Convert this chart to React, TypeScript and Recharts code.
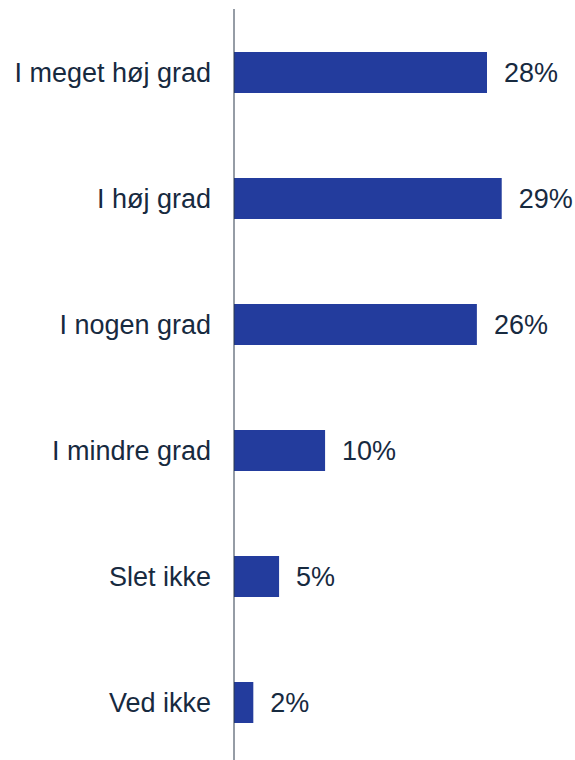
import React from "react";
import { BarChart, Bar, XAxis, YAxis, LabelList } from "recharts";

const categories = [
  "I meget høj grad",
  "I høj grad",
  "I nogen grad",
  "I mindre grad",
  "Slet ikke",
  "Ved ikke",
];
const values = [27.5, 29.1, 26.4, 9.9, 4.9, 2.1];
const labels = ["28%", "29%", "26%", "10%", "5%", "2%"];

const data = categories.map((c, i) => ({ name: c, value: values[i], label: labels[i] }));

const FONT = '"Liberation Sans", Arial, sans-serif';
const TEXT = "#172a3f";

export default function App() {
  return (
    <div
      style={{
        position: "absolute",
        left: 0,
        top: 0,
        width: 575,
        height: 760,
        overflow: "hidden",
        background: "#ffffff",
      }}
    >
      <BarChart
        width={575}
        height={766}
        data={data}
        layout="vertical"
        margin={{ top: 9, right: 19, left: 0, bottom: 1 }}
      >
        <XAxis type="number" domain={[0, 35]} hide />
        <YAxis
          type="category"
          dataKey="name"
          width={234}
          tickLine={false}
          tickSize={0}
          tickMargin={23}
          axisLine={{ stroke: "#2c3b4d", strokeWidth: 1 }}
          tick={{ fill: TEXT, fontSize: 27, fontFamily: FONT }}
          interval={0}
        />
        <Bar dataKey="value" fill="#233c9d" barSize={41} isAnimationActive={false}>
          <LabelList
            dataKey="label"
            position="right"
            offset={17}
            style={{ fill: TEXT, fontSize: 27, fontFamily: FONT }}
          />
        </Bar>
      </BarChart>
    </div>
  );
}
